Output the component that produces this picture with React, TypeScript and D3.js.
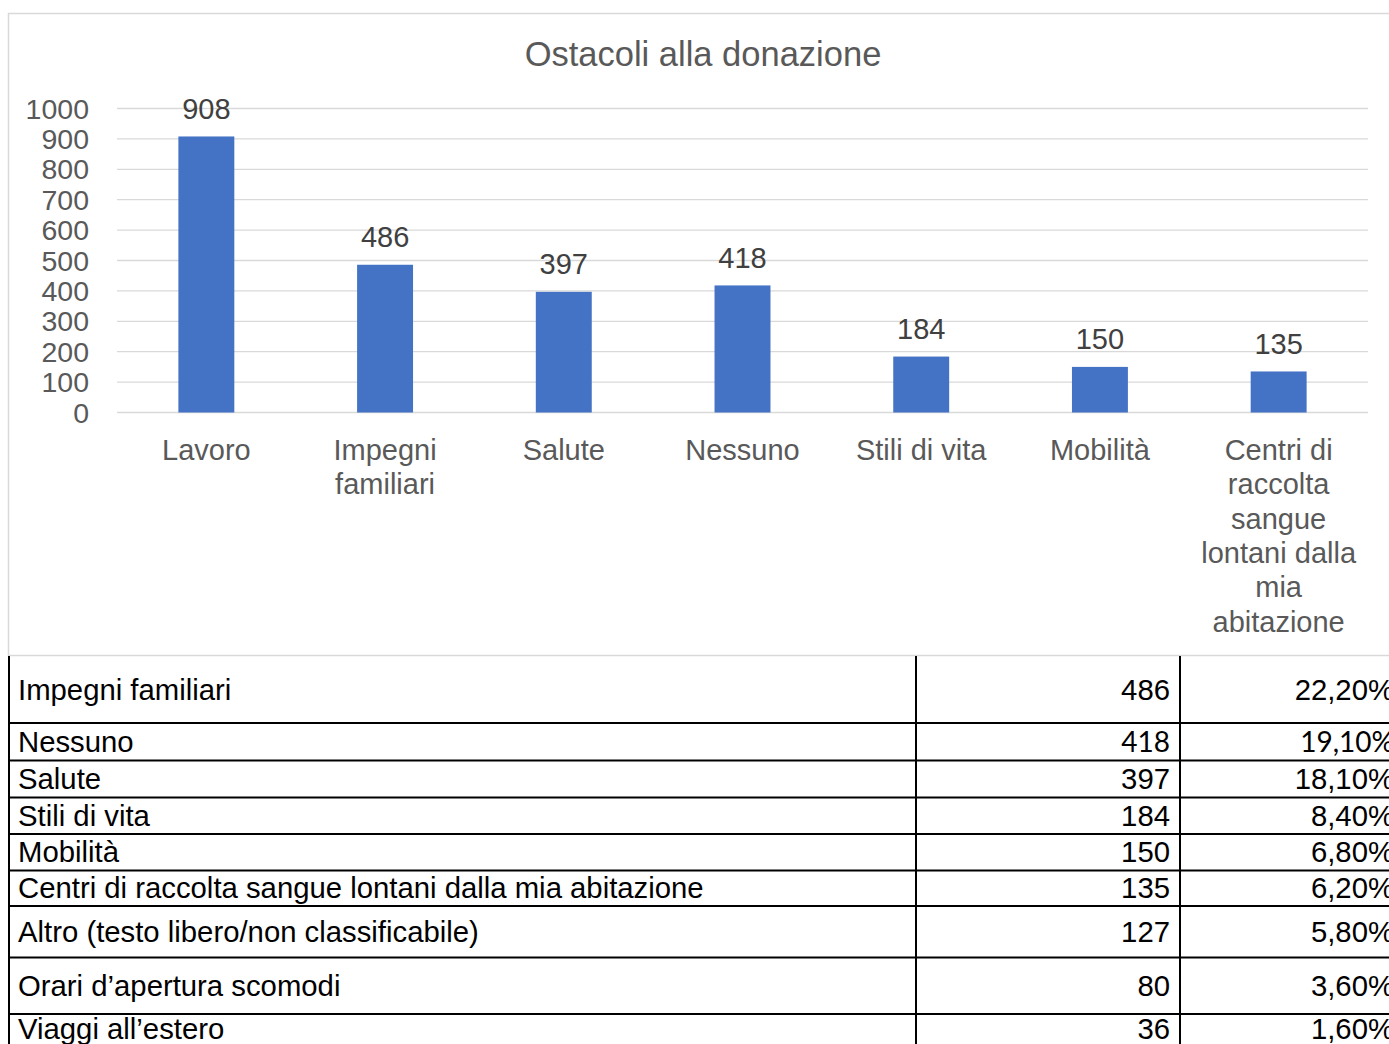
import React from "react";
import * as d3 from "d3";

const categories: string[][] = [
  ["Lavoro"],
  ["Impegni", "familiari"],
  ["Salute"],
  ["Nessuno"],
  ["Stili di vita"],
  ["Mobilità"],
  ["Centri di", "raccolta", "sangue", "lontani dalla", "mia", "abitazione"],
];
const values: number[] = [908, 486, 397, 418, 184, 150, 135];
const yTicks: number[] = [0, 100, 200, 300, 400, 500, 600, 700, 800, 900, 1000];

const tableLabels: string[] = [
  "Impegni familiari",
  "Nessuno",
  "Salute",
  "Stili di vita",
  "Mobilità",
  "Centri di raccolta sangue lontani dalla mia abitazione",
  "Altro (testo libero/non classificabile)",
  "Orari d’apertura scomodi",
  "Viaggi all’estero",
];
const tableCounts: number[] = [486, 418, 397, 184, 150, 135, 127, 80, 36];
const tablePercents: string[] = ["22,20%", "19,10%", "18,10%", "8,40%", "6,80%", "6,20%", "5,80%", "3,60%", "1,60%"];

const W = 1389;
const H = 1044;
const FONT = "'Liberation Sans', Arial, sans-serif";

export default function App() {
  const x = d3
    .scaleBand<number>()
    .domain(d3.range(values.length))
    .range([117, 1368])
    .paddingInner(0.687)
    .paddingOuter(0.3435);
  const y = d3.scaleLinear().domain([0, 1000]).range([412.5, 108.5]);

  const rowLines = [656, 723, 760.5, 797.5, 834, 870.5, 906, 957.5, 1014, 1050];

  return (
    <svg
      width={W}
      height={H}
      style={{ position: "absolute", left: 0, top: 0, background: "#fff" }}
      fontFamily={FONT}
    >
      <rect x={0} y={0} width={W} height={H} fill="#ffffff" />
      {/* chart frame */}
      <rect x={8.5} y={13.5} width={1400} height={642} fill="none" stroke="#d9d9d9" strokeWidth={1.5} />
      <text x={703} y={66} textAnchor="middle" fontSize={34.5} fill="#595959">
        Ostacoli alla donazione
      </text>
      {/* gridlines */}
      {yTicks.map((t) => (
        <line key={"g" + t} x1={117} x2={1368} y1={y(t)} y2={y(t)} stroke="#d9d9d9" strokeWidth={1.3} />
      ))}
      {yTicks.map((t) => (
        <text key={"t" + t} x={89} y={y(t) + 10} textAnchor="end" fontSize={28.5} fill="#595959">
          {t}
        </text>
      ))}
      {/* bars */}
      {values.map((v, i) => (
        <rect key={"b" + i} x={x(i)} y={y(v)} width={x.bandwidth()} height={y(0) - y(v)} fill="#4472c4" />
      ))}
      {values.map((v, i) => (
        <text
          key={"v" + i}
          x={(x(i) as number) + x.bandwidth() / 2}
          y={y(v) - 17.5}
          textAnchor="middle"
          fontSize={29}
          fill="#404040"
        >
          {v}
        </text>
      ))}
      {categories.map((lines, i) => (
        <text
          key={"c" + i}
          x={(x(i) as number) + x.bandwidth() / 2}
          y={460}
          textAnchor="middle"
          fontSize={29}
          fill="#595959"
        >
          {lines.map((l, j) => (
            <tspan key={j} x={(x(i) as number) + x.bandwidth() / 2} y={460 + j * 34.3}>
              {l}
            </tspan>
          ))}
        </text>
      ))}
      {/* table */}
      {rowLines.slice(1).map((ly, i) => (
        <line key={"r" + i} x1={8} x2={1400} y1={ly} y2={ly} stroke="#000" strokeWidth={2} />
      ))}
      {[9, 916, 1180].map((lx) => (
        <line key={"vl" + lx} x1={lx} x2={lx} y1={656} y2={1050} stroke="#000" strokeWidth={2} />
      ))}
      {tableLabels.map((lab, i) => {
        const cy = (rowLines[i] + rowLines[i + 1]) / 2 + (i === 8 ? -3 : 0);
        const alt = i === 1;
        return (
          <g key={"row" + i}>
            <text x={18} y={cy + 10} fontSize={29.3} fill="#000">
              {lab}
            </text>
            <text
              x={1170}
              y={cy + 10}
              textAnchor="end"
              fontSize={alt ? 28 : 29.3}
              fontFamily={alt ? "Lato, 'Open Sans', sans-serif" : FONT}
              fill="#000"
            >
              {tableCounts[i]}
            </text>
            <text
              x={1394}
              y={cy + 10}
              textAnchor="end"
              fontSize={alt ? 28 : 29.3}
              fontFamily={alt ? "Lato, 'Open Sans', sans-serif" : FONT}
              fill="#000"
            >
              {tablePercents[i]}
            </text>
          </g>
        );
      })}
    </svg>
  );
}
